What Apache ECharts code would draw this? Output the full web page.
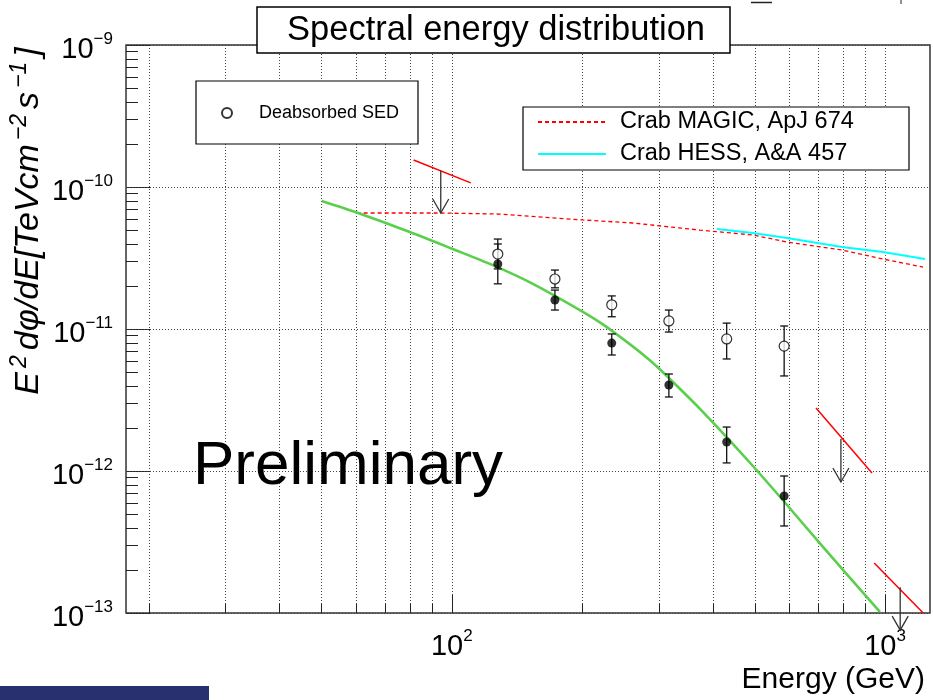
<!DOCTYPE html>
<html>
<head>
<meta charset="utf-8">
<title>Spectral energy distribution</title>
<script src="https://cdn.jsdelivr.net/npm/echarts@6/dist/echarts.min.js"></script>
<style>
html, body { margin: 0; padding: 0; background: #fff; }
#sedChart { width: 933px; height: 700px; }
</style>
</head>
<body>
<div id="sedChart"></div>
<script>
// y axis runs in units of 1e-13 TeV cm^-2 s^-1 (log axis dislikes tiny numbers)
var FLUX_UNIT = 1e-13;

// measured points (GeV)
var energy = [127.7, 173, 234, 317, 431, 585];
// observed SED (filled)
var fluxObs = [2.87e-11, 1.60e-11, 7.96e-12, 4.03e-12, 1.60e-12, 6.67e-13];
var fluxObsLo = [2.08e-11, 1.36e-11, 6.56e-12, 3.32e-12, 1.14e-12, 4.10e-13];
var fluxObsHi = [3.97e-11, 1.88e-11, 9.23e-12, 4.82e-12, 2.04e-12, 9.22e-13];
// deabsorbed SED (open)
var fluxDeabs = [3.37e-11, 2.25e-11, 1.48e-11, 1.14e-11, 8.51e-12, 7.58e-12];
var fluxDeabsLo = [2.65e-11, 1.95e-11, 1.22e-11, 9.52e-12, 6.15e-12, 4.67e-12];
var fluxDeabsHi = [4.30e-11, 2.60e-11, 1.71e-11, 1.36e-11, 1.10e-11, 1.05e-11];

// fitted spectrum (green)
var fitEnergy = [50.1, 60.3, 80.0, 100.5, 127, 153.9, 200.7, 228, 286, 342, 394, 496, 594, 719, 973];
var fitFlux = [7.97e-11, 6.61e-11, 4.82e-11, 3.66e-11, 2.74e-11, 2.08e-11, 1.32e-11, 1.03e-11,
  6.05e-12, 3.60e-12, 2.32e-12, 1.08e-12, 5.76e-13, 2.92e-13, 1.02e-13];

// Crab reference spectra
var magicEnergy = [60.3, 93.8, 129.1, 200.7, 261.8, 373.9, 495.6, 593.8, 795.5, 989.5, 1224];
var magicFlux = [6.56e-11, 6.56e-11, 6.45e-11, 5.86e-11, 5.58e-11, 4.97e-11, 4.59e-11, 4.10e-11,
  3.60e-11, 3.11e-11, 2.73e-11];
var hessEnergy = [409, 495.6, 593.8, 795.5, 989.5, 1237];
var hessFlux = [5.06e-11, 4.74e-11, 4.38e-11, 3.78e-11, 3.48e-11, 3.11e-11];

// upper limits: arrow position, arrow tip, and the red slope segment
var ulEnergy = [94.3, 791, 1084];
var ulFlux = [1.30e-10, 1.68e-12, 1.52e-13];
var ulTipFlux = [6.56e-11, 8.37e-13, 7.58e-14];
var ulLineE1 = [81.6, 693, 944];
var ulLineF1 = [1.55e-10, 2.78e-12, 2.25e-13];
var ulLineE2 = [110.6, 933, 1225];
var ulLineF2 = [1.07e-10, 9.68e-13, 1.0e-13];

// axis ranges and ticks
var energyMin = 17.7, energyMax = 1270;
var fluxMin = 1e-13, fluxMax = 1e-9;
var gridEnergy = [20, 30, 40, 50, 60, 70, 80, 90, 100, 200, 300, 400, 500, 600, 700, 800, 900, 1000];
var majorEnergy = [100, 1000];
var fluxDecades = [1e-13, 1e-12, 1e-11, 1e-10, 1e-9];
var minorMult = [2, 3, 4, 5, 6, 7, 8, 9];

var FONT = 'Liberation Sans, Arial, sans-serif';

function toUnit(f) { return f / FLUX_UNIT; }
function pairs(xs, ys) {
  return xs.map(function (x, i) { return [x, toUnit(ys[i])]; });
}
function seg(x1, y1, x2, y2, color, width, dash) {
  return {
    type: 'line',
    shape: { x1: x1, y1: y1, x2: x2, y2: y2 },
    style: { stroke: color, lineWidth: width, lineDash: dash || null }
  };
}

var yTicks = [];
fluxDecades.forEach(function (d, i) {
  yTicks.push(d);
  if (i < fluxDecades.length - 1) {
    minorMult.forEach(function (m) { yTicks.push(d * m); });
  }
});

function supLabel(exp) {
  var s = exp < 0 ? '\u2212' + (-exp) : '' + exp;
  return '{b|10}{s|' + s + '}';
}
var labelRich = {
  b: { fontSize: 29, fontFamily: FONT, color: '#000', lineHeight: 38 },
  s: { fontSize: 17, fontFamily: FONT, color: '#000', lineHeight: 17, verticalAlign: 'top' }
};

function errorBarItem(params, api) {
  var top = api.coord([api.value(0), api.value(2)]);
  var bot = api.coord([api.value(0), api.value(1)]);
  var x = top[0], w = 4;
  return {
    type: 'group',
    children: [
      seg(x, top[1], x, bot[1], '#111', 1.3),
      seg(x - w, top[1], x + w, top[1], '#111', 1.3),
      seg(x - w, bot[1], x + w, bot[1], '#111', 1.3)
    ]
  };
}

var chart = echarts.init(document.getElementById('sedChart'));

chart.setOption({
  animation: false,
  backgroundColor: '#fff',
  title: {
    text: 'Spectral energy distribution',
    left: 287,
    top: 13,
    padding: 0,
    z: 10,
    textStyle: { fontSize: 34.5, fontWeight: 'normal', fontFamily: FONT, color: '#000' }
  },
  grid: {
    left: 126, top: 45, width: 804, height: 568,
    show: true, borderColor: '#333', borderWidth: 1.5
  },
  legend: [
    {
      data: ['Deabsorbed SED'],
      left: 221, top: 104, orient: 'vertical', padding: 0, z: 10,
      itemWidth: 10, itemHeight: 10, selectedMode: false,
      textStyle: { fontSize: 18, lineHeight: 18, fontFamily: FONT, color: '#000', padding: [0, 0, 0, 22] }
    },
    {
      data: ['Crab MAGIC, ApJ 674', 'Crab HESS, A&A 457'],
      left: 537, top: 110, orient: 'vertical', padding: 0, z: 10,
      itemWidth: 68, itemHeight: 14, itemGap: 8, selectedMode: false,
      itemStyle: { opacity: 0 },
      textStyle: { fontSize: 23.5, lineHeight: 24, fontFamily: FONT, color: '#000', padding: [0, 0, 0, 9] }
    }
  ],
  xAxis: {
    type: 'log',
    logBase: 10,
    min: energyMin,
    max: energyMax,
    name: 'Energy (GeV)',
    nameLocation: 'end',
    nameGap: -5,
    nameTextStyle: {
      fontSize: 30, fontFamily: FONT, color: '#000',
      align: 'right', verticalAlign: 'top', padding: [52, 0, 0, 0]
    },
    axisLine: { show: false },
    axisTick: { show: false },
    splitLine: { show: false },
    axisLabel: {
      margin: 15,
      rich: labelRich,
      formatter: function (v) {
        var l = Math.log10(v);
        if (Math.abs(l - Math.round(l)) > 1e-6) return '';
        return supLabel(Math.round(l));
      }
    }
  },
  yAxis: {
    type: 'log',
    logBase: 10,
    min: toUnit(fluxMin),
    max: toUnit(fluxMax),
    axisLine: { show: false },
    axisTick: { show: false },
    splitLine: { show: false },
    axisLabel: {
      margin: 13,
      align: 'right',
      padding: [10, 0, 0, 0],
      rich: labelRich,
      formatter: function (v) {
        var l = Math.log10(v) + Math.log10(FLUX_UNIT);
        return supLabel(Math.round(l));
      }
    }
  },
  graphic: [
    // title box
    { type: 'rect', z: 5, shape: { x: 257, y: 7, width: 473, height: 46 },
      style: { fill: '#fff', stroke: '#000', lineWidth: 1.5 } },
    // legend boxes
    { type: 'rect', z: 5, shape: { x: 196, y: 81, width: 222, height: 63 },
      style: { fill: '#fff', stroke: '#000', lineWidth: 1.2 } },
    { type: 'rect', z: 5, shape: { x: 523, y: 107, width: 386, height: 63 },
      style: { fill: '#fff', stroke: '#000', lineWidth: 1.2 } },
    // y axis title
    {
      type: 'text', z: 5, x: 29, y: 221, rotation: Math.PI / 2,
      style: {
        text: '{i|E}{s|2}{i|d\u03c6/dE[TeVcm}{s|\u22122}{i|s}{s|\u22121}{i|]}',
        rich: {
          i: { fontSize: 34, fontStyle: 'italic', fontFamily: FONT, color: '#000', lineHeight: 42 },
          s: { fontSize: 23, fontStyle: 'italic', fontFamily: FONT, color: '#000', lineHeight: 23,
            verticalAlign: 'top', padding: [0, 5, 0, 4] }
        },
        align: 'center', verticalAlign: 'middle',
        textAlign: 'center', textVerticalAlign: 'middle'
      }
    },
    {
      type: 'text', z: 5, x: 193, y: 467,
      style: {
        text: 'Preliminary', fontSize: 62, fontFamily: FONT, fill: '#000',
        align: 'left', verticalAlign: 'middle', textAlign: 'left', textVerticalAlign: 'middle'
      }
    },
    // cropped bits at the picture edges
    { type: 'rect', z: 5, shape: { x: 0, y: 686, width: 209, height: 14 }, style: { fill: '#28306f' } },
    { type: 'line', z: 5, shape: { x1: 751, y1: 2.5, x2: 772, y2: 2.5 }, style: { stroke: '#222', lineWidth: 1.5 } },
    { type: 'line', z: 5, shape: { x1: 901, y1: 0, x2: 901, y2: 4 }, style: { stroke: '#222', lineWidth: 1 } }
  ],
  series: [
    {
      // vertical grid lines and x ticks
      type: 'custom', name: 'xgrid', z: 1, silent: true,
      data: gridEnergy.map(function (e) { return [e, toUnit(fluxMin)]; }),
      renderItem: function (params, api) {
        var cs = params.coordSys;
        var p = api.coord([api.value(0), api.value(1)]);
        var x = Math.round(p[0]) + 0.5;
        var bottom = cs.y + cs.height;
        var len = majorEnergy.indexOf(api.value(0)) >= 0 ? 18 : 9;
        return {
          type: 'group',
          children: [
            seg(x, cs.y, x, bottom, '#444', 1, [1, 2]),
            seg(x, bottom, x, bottom - len, '#222', 1)
          ]
        };
      }
    },
    {
      // horizontal grid lines and y ticks
      type: 'custom', name: 'ygrid', z: 1, silent: true,
      data: yTicks.map(function (f) { return [energyMin, toUnit(f)]; }),
      renderItem: function (params, api) {
        var cs = params.coordSys;
        var p = api.coord([api.value(0), api.value(1)]);
        var y = Math.round(p[1]) + 0.5;
        var l = Math.log10(api.value(1));
        var major = Math.abs(l - Math.round(l)) < 1e-6;
        var children = [seg(cs.x, y, cs.x + (major ? 24 : 12), y, '#222', 1)];
        if (major) children.push(seg(cs.x, y, cs.x + cs.width, y, '#444', 1, [1, 2]));
        return { type: 'group', children: children };
      }
    },
    {
      name: 'Crab MAGIC, ApJ 674', type: 'line', z: 3,
      data: pairs(magicEnergy, magicFlux),
      symbol: 'none',
      lineStyle: { color: '#ff0000', width: 1.3, type: [4, 3] },
      itemStyle: { color: '#ff0000' }
    },
    {
      name: 'Crab HESS, A&A 457', type: 'line', z: 3,
      data: pairs(hessEnergy, hessFlux),
      symbol: 'none',
      lineStyle: { color: '#00ffff', width: 2 },
      itemStyle: { color: '#00ffff' }
    },
    {
      name: 'Fit', type: 'line', z: 3,
      data: pairs(fitEnergy, fitFlux),
      symbol: 'none',
      smooth: 0.3,
      lineStyle: { color: '#5acf4c', width: 2.6 }
    },
    {
      type: 'custom', name: 'obsErr', z: 4, silent: true,
      data: energy.map(function (e, i) { return [e, toUnit(fluxObsLo[i]), toUnit(fluxObsHi[i])]; }),
      renderItem: errorBarItem
    },
    {
      type: 'custom', name: 'deabsErr', z: 4, silent: true,
      data: energy.map(function (e, i) { return [e, toUnit(fluxDeabsLo[i]), toUnit(fluxDeabsHi[i])]; }),
      renderItem: errorBarItem
    },
    {
      name: 'Observed SED', type: 'scatter', z: 5,
      data: pairs(energy, fluxObs),
      symbol: 'circle', symbolSize: 9,
      itemStyle: { color: '#000' }
    },
    {
      name: 'Deabsorbed SED', type: 'scatter', z: 5,
      data: pairs(energy, fluxDeabs),
      symbol: 'circle', symbolSize: 10,
      itemStyle: { color: '#fff', borderColor: '#000', borderWidth: 1.2 }
    },
    {
      // upper limits
      type: 'custom', name: 'ul', z: 4, silent: true,
      data: ulEnergy.map(function (e, i) {
        return [e, toUnit(ulFlux[i]), toUnit(ulTipFlux[i]),
          ulLineE1[i], toUnit(ulLineF1[i]), ulLineE2[i], toUnit(ulLineF2[i])];
      }),
      renderItem: function (params, api) {
        var top = api.coord([api.value(0), api.value(1)]);
        var tip = api.coord([api.value(0), api.value(2)]);
        var a = api.coord([api.value(3), api.value(4)]);
        var b = api.coord([api.value(5), api.value(6)]);
        return {
          type: 'group',
          children: [
            seg(a[0], a[1], b[0], b[1], '#ff0000', 1.5),
            seg(top[0], top[1], tip[0], tip[1], '#333', 1.3),
            {
              type: 'polyline',
              shape: { points: [[tip[0] - 8, tip[1] - 14], [tip[0], tip[1]], [tip[0] + 8, tip[1] - 14]] },
              style: { stroke: '#333', lineWidth: 1.3, fill: null }
            }
          ]
        };
      }
    }
  ]
});
</script>
</body>
</html>
